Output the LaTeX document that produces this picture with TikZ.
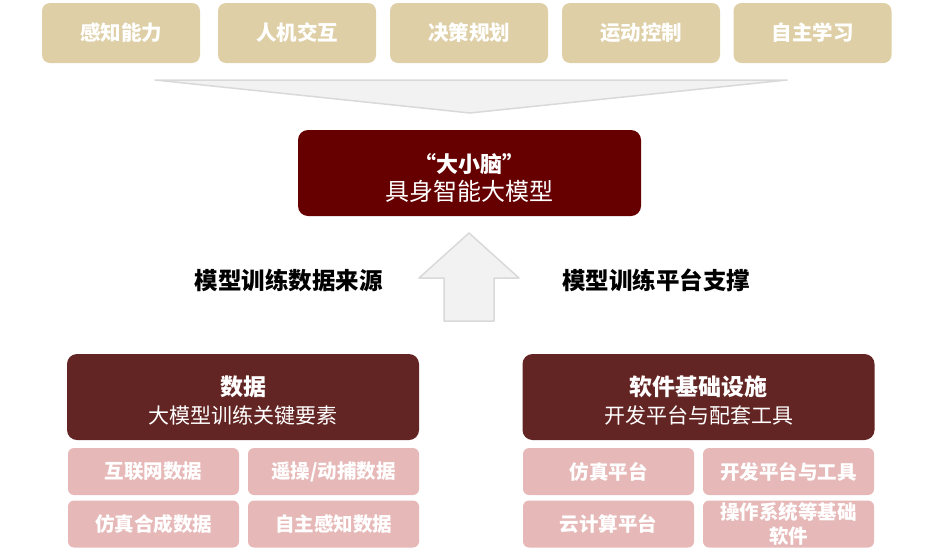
\documentclass[tikz,border=0pt]{standalone}
\usepackage{fontspec}
\setmainfont{Noto Sans CJK SC}
\definecolor{tan}{RGB}{222,207,166}
\definecolor{brainred}{RGB}{102,0,0}
\definecolor{mainred}{RGB}{99,37,35}
\definecolor{subpink}{RGB}{230,185,184}
\definecolor{lightfill}{RGB}{242,242,242}
\definecolor{lightline}{RGB}{217,217,217}
\tikzset{
  topbox/.style={fill=tan, rounded corners=8pt, minimum width=158pt, minimum height=60pt, text=white, font=\fontsize{20.5}{24}\selectfont\bfseries, inner sep=0pt},
  brainbox/.style={fill=brainred, rounded corners=10pt, minimum width=343pt, minimum height=86pt, inner sep=0pt},
  mainbox/.style={fill=mainred, rounded corners=10pt, minimum width=352pt, minimum height=86pt, inner sep=0pt},
  boxtext/.style={text=white, align=center, inner sep=0pt, font=\fontsize{21}{28}\selectfont},
  subbox/.style={fill=subpink, rounded corners=6pt, minimum width=171pt, minimum height=47pt, text=white, align=center, inner sep=0pt, font=\fontsize{19.5}{24}\selectfont\bfseries},
  sidelabel/.style={text=black, font=\fontsize{23.5}{28}\selectfont\bfseries, inner sep=0pt},
  shapeline/.style={fill=lightfill, draw=lightline, line width=1.5pt, line join=round}
}
\begin{document}
\begin{tikzpicture}[x=1pt,y=-1pt]
\useasboundingbox (0,0) rectangle (934,552);
% top capability boxes
\node[topbox] (t1) at (121,33) {感知能力};
\node[topbox] (t2) at (297,33) {人机交互};
\node[topbox] (t3) at (469,33) {决策规划};
\node[topbox] (t4) at (641,33) {运动控制};
\node[topbox] (t5) at (812.5,33) {自主学习};
% downward chevron
\coordinate (cl) at (155,80);
\coordinate (cr) at (787,80);
\coordinate (ct) at (470,113);
\draw[shapeline] (cl) -- (cr) -- (ct) -- cycle;
% brain box
\node[brainbox] (brain) at (469.5,173) {};
\node[boxtext] (braintxt) at ([yshift=-5pt]brain.center) {{\fontsize{22}{28}\selectfont\bfseries “大小脑”}\\{\fontsize{24}{28}\selectfont 具身智能大模型}};
% upward arrow
\coordinate (atip) at (469,233);
\draw[shapeline] (atip) -- (519,278) -- (494,278) -- (494,321) -- (444,321) -- (444,278) -- (419,278) -- cycle;
% side labels
\node[sidelabel] (lsrc) at (288.5,280) {模型训练数据来源};
\node[sidelabel] (lplat) at (656,280) {模型训练平台支撑};
% data block
\node[mainbox] (data) at (243,397) {};
\node[boxtext] (datatxt) at ([yshift=-3.5pt]data.center) {{\fontsize{23}{28}\selectfont\bfseries 数据}\\大模型训练关键要素};
\node[subbox] (d1) at (153.5,471.5) {互联网数据};
\node[subbox] (d2) at (333.5,471.5) {遥操/动捕数据};
\node[subbox] (d3) at (153.5,524) {仿真合成数据};
\node[subbox] (d4) at (333.5,524) {自主感知数据};
% software block
\node[mainbox] (soft) at (698.5,397) {};
\node[boxtext] (softtxt) at ([yshift=-3.5pt]soft.center) {{\fontsize{23}{28}\selectfont\bfseries 软件基础设施}\\开发平台与配套工具};
\node[subbox] (s1) at (608.5,471.5) {仿真平台};
\node[subbox] (s2) at (788.5,471.5) {开发平台与工具};
\node[subbox] (s3) at (608.5,524) {云计算平台};
\node[subbox] (s4) at (788.5,524) {操作系统等基础\\软件};
\end{tikzpicture}
\end{document}
